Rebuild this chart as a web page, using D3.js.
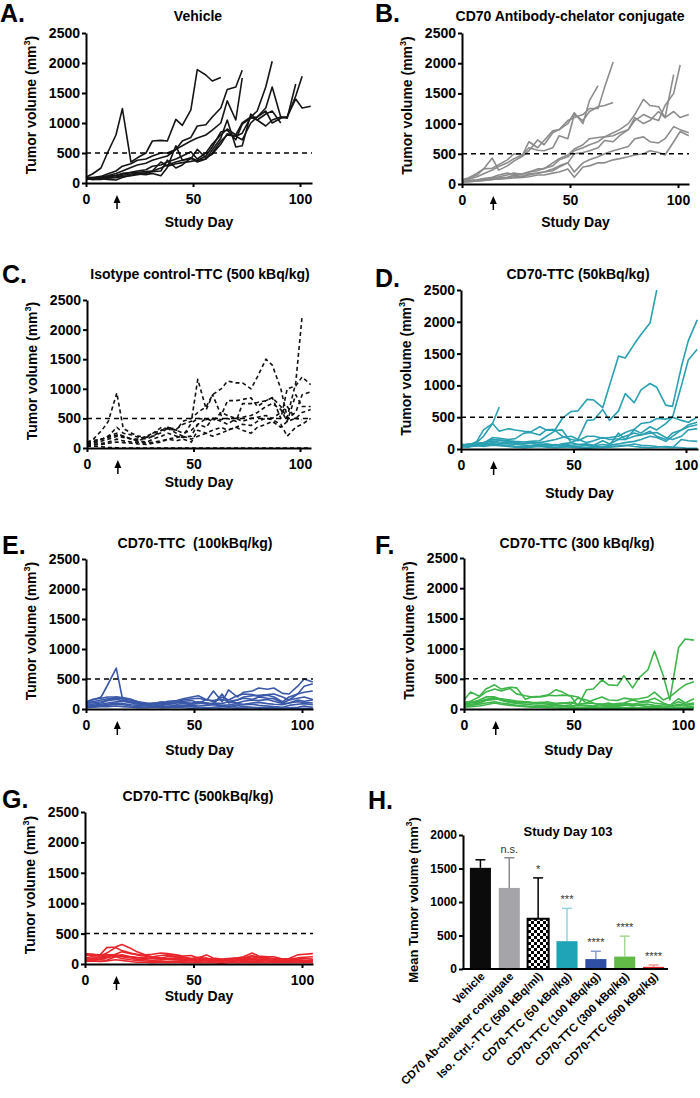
<!DOCTYPE html>
<html><head><meta charset="utf-8">
<script src="https://cdn.jsdelivr.net/npm/d3@7"></script>
<style>
body{margin:0;background:#fff}
svg{font-family:"Liberation Sans",Arial,sans-serif;font-weight:bold}
</style></head><body>
<svg id="c" width="700" height="1098"></svg>
<script>
const studyDays = [0,3,7,10,14,17,21,24,28,31,35,38,42,45,49,52,56,59,63,66,70,73,77,80,84,87,91,94,98,101,105];

const vehicleMice = [
 [100,150,250,500,800,1240,350,420,500,700,710,700,1060,960,1220,1890,1800,1700,1760],
 [80,90,110,150,200,280,320,380,400,450,500,500,560,700,760,950,970,1100,1250,1560,1600,1880],
 [70,80,100,120,160,200,260,300,330,380,420,450,560,620,700,750,800,880,1000,1370,1050,1750],
 [60,70,80,100,120,150,180,200,220,280,300,350,400,450,520,400,500,650,800,900,800,1000,1100,1200,1600,2030],
 [90,80,90,110,130,160,170,180,190,200,250,300,350,380,420,370,450,600,850,880,720,980,1080,1100,1250,1600,1100,1080,1650],
 [80,60,70,90,100,130,150,160,170,200,350,280,320,340,360,380,400,550,750,1050,600,620,1150,1050,950,1050,1100,1100,1450,1780],
 [70,60,60,80,90,110,120,140,160,190,200,380,250,300,420,350,400,500,700,800,780,720,1000,1100,1200,1000,1080,1100,1400,1250,1280],
 [100,90,70,60,50,90,130,150,140,160,120,260,620,380,400,560,420,480,650,820,780,830,1100,1050,1150,1200,1000]
];

const antibodyMice = [
 [60,100,150,250,430,230,300,380,460,550,730,650,850,900,1000,1180,1000,1380,1630],
 [50,80,120,170,230,290,350,420,480,700,600,720,880,900,1050,1100,1150,1250,1250,1600,2020],
 [70,100,180,250,260,320,400,500,480,600,560,550,600,800,750,1150,1050,1200,1280,1300,1350],
 [40,50,60,80,100,120,150,180,160,200,220,260,300,400,450,550,600,650,700,780,800,850,900,1050,1150,1100,1050,1300,1500,1970],
 [60,60,70,90,110,150,180,160,170,200,250,250,350,420,480,580,650,750,770,780,850,900,1000,1150,1400,1300,1280,1100,1810],
 [50,50,60,80,90,100,110,150,120,150,180,200,250,300,350,500,520,550,600,720,700,800,900,1100,1000,1050,1200,1100,1200,1100,1150],
 [40,40,50,60,70,90,100,120,130,170,180,200,220,280,350,200,350,400,450,500,550,580,620,750,780,700,680,750,950,900,850],
 [30,40,50,60,80,80,90,100,110,120,150,150,180,200,250,110,280,300,350,350,400,420,450,480,500,550,520,480,700,870,800]
];

const isotypeMice = [
 [90,150,300,450,930,330,250,200,180,200,260,340,320,400,450,1160,650,900,550,800,800,820,850,700,800,850,500,1000,1050,1200,1070],
 [80,100,150,180,220,200,150,150,200,250,300,350,300,450,500,600,700,900,1000,1130,1100,1100,1000,1200,1500,1400,1000,520,1100,2230],
 [70,100,150,200,350,250,220,180,150,200,300,330,250,200,420,500,480,500,480,500,450,750,750,770,800,850,700,500,600,900,950],
 [60,80,120,150,200,180,150,120,100,150,200,250,200,180,200,400,350,500,450,400,500,520,550,600,700,750,650,450,900,700,700],
 [50,60,80,100,150,120,100,100,80,100,120,150,180,200,150,200,250,300,350,300,350,400,380,450,500,480,400,200,350,400,500],
 [40,50,60,80,100,90,80,70,60,80,100,150,120,150,100,300,250,200,250,300,350,300,250,350,400,450,350,450,500,600,650],
 [100,130,150,200,250,200,150,120,180,250,350,320,300,250,300,400,500,450,600,550,500,450,500,520,550,500,600,700,500,480],
 [30,30,20,10,5,0,0,0,0,0,0,0,0,0,0,0,0,0,0,0,0,0,0,0,0,0,0,0,0,0,0]
];

const ttc50Mice = [
 [60,50,120,300,400,660],
 [80,60,100,200,400,280,320,300,280,270,350,300,310,480,590,600,780,770,650,1000,1460,1430,1650,1800,1980,2500],
 [70,60,80,100,150,140,130,120,110,120,130,200,290,300,100,150,450,460,620,450,600,870,730,930,1030,970,690,670,1300,1700,2030],
 [50,60,90,100,120,110,100,90,80,90,70,80,60,80,100,70,80,60,130,80,150,150,300,250,350,300,400,500,1000,1400,1570],
 [60,70,80,90,180,170,150,160,250,260,220,300,290,200,150,130,200,200,170,180,200,260,310,400,420,480,470,500,450,420,500],
 [40,50,60,80,150,140,120,100,90,110,100,120,150,180,200,150,100,130,180,150,160,200,250,220,280,200,150,250,300,380,420],
 [50,40,60,70,100,90,80,70,60,50,80,60,70,60,50,40,60,50,70,60,80,100,120,150,200,180,120,200,300,350,380],
 [60,80,70,60,80,70,50,40,30,50,60,40,50,80,60,70,50,40,30,60,250,150,200,220,250,260,180,150,200,300,320],
 [40,30,50,40,60,50,40,30,20,30,40,30,20,30,40,30,20,30,20,30,40,50,80,60,50,40,30,20,150,130,120],
 [30,40,50,60,70,60,50,40,30,40,50,60,50,40,30,20,10,20,30,40,50,60,40,30,20,30,40,30,20,10,10]
];

const ttc100Mice = [
 [100,150,200,400,680,150,120,100,80,90,100,110,120,150,170,180,150,140,160,130,150,200,220,230,240,250,200,150,250,380,420],
 [120,160,180,200,200,180,150,120,100,80,100,130,140,170,200,220,150,300,120,320,200,280,300,350,330,350,260,250,380,500,450],
 [80,120,150,170,180,170,150,110,90,100,80,90,120,130,140,100,160,120,200,150,220,250,240,210,230,200,120,200,250,280,300],
 [100,100,120,150,200,190,160,120,80,70,90,80,100,110,90,120,100,80,250,100,150,180,160,200,180,170,100,150,180,200,160],
 [60,80,100,140,160,140,120,90,70,90,120,100,80,90,100,110,80,100,90,120,100,130,150,140,160,130,90,100,150,130,150],
 [50,60,80,100,120,130,100,80,60,50,60,70,50,60,80,90,100,80,60,70,90,80,100,110,90,80,70,100,120,110,100],
 [40,50,60,80,100,90,70,60,50,40,30,40,50,40,60,50,60,70,50,40,60,70,80,60,50,40,30,60,80,90,70],
 [30,40,50,60,80,70,50,40,30,40,50,30,40,50,40,30,20,30,40,50,30,40,30,20,30,20,10,20,30,50,30],
 [20,30,40,40,50,40,30,20,20,30,20,20,30,20,10,20,10,20,10,20,10,10,20,10,10,10,10,10,10,10,10]
];

const ttc300Mice = [
 [150,280,210,330,400,330,360,350,160,200,200,220,320,280,200,50,320,330,480,400,390,550,350,520,650,960,550,150,1020,1160,1140],
 [100,130,200,280,330,300,340,250,220,200,210,230,220,230,220,200,100,150,200,150,140,180,160,170,200,280,150,200,320,400,450],
 [80,100,150,200,200,160,120,100,120,100,110,100,90,100,80,180,150,100,60,70,90,100,150,120,140,180,100,60,170,100,170],
 [90,110,130,160,180,150,130,120,110,100,90,80,70,60,50,70,60,50,80,60,70,90,80,100,120,100,80,60,120,80,100],
 [60,80,100,150,190,140,110,90,80,70,60,50,60,50,40,60,50,40,30,50,40,60,70,60,40,50,30,40,60,50,40],
 [40,60,80,100,120,100,80,60,50,40,50,40,30,40,30,20,30,20,30,20,30,20,30,20,20,30,20,10,30,20,20],
 [30,40,50,70,100,80,60,50,40,30,30,20,20,10,10,10,10,10,10,10,10,10,10,10,10,10,10,10,10,10,10],
 [110,120,100,140,160,170,150,130,120,110,100,120,90,100,110,80,100,90,80,100,60,80,50,70,80,60,50,40,80,60,80]
];

const ttc500Mice = [
 [160,160,150,270,280,320,260,200,150,160,180,170,150,130,140,100,150,100,80,90,100,120,180,130,120,120,80,90,150,160,170],
 [140,150,130,180,270,220,180,150,130,120,140,150,120,100,90,110,90,80,70,80,90,100,140,110,100,90,80,80,100,110,120],
 [100,120,110,130,160,200,170,160,140,120,100,120,130,110,90,80,100,70,60,70,80,90,120,100,90,80,60,70,80,90,80],
 [80,90,100,110,130,150,120,100,90,100,80,90,100,80,70,60,80,60,50,60,70,80,90,80,70,60,50,60,70,60,60],
 [60,70,80,100,150,120,100,80,70,60,70,80,70,60,50,60,50,40,50,40,50,60,70,60,50,40,40,50,50,40,40],
 [50,60,70,60,120,90,70,60,50,40,50,40,50,40,30,40,30,40,30,40,30,40,50,40,30,30,30,30,30,30,30],
 [40,50,40,50,70,60,40,30,30,20,30,20,30,20,20,20,20,20,10,20,20,20,20,20,20,20,20,20,20,20,20],
 [170,160,140,150,150,130,120,110,100,90,100,80,80,70,60,70,60,50,40,50,60,70,80,70,60,50,40,40,60,50,50]
];

const barGroups = ["Vehicle","CD70 Ab-chelator conjugate","Iso. Ctrl.-TTC (500 kBq/ml)","CD70-TTC (50 kBq/kg)","CD70-TTC (100 kBq/kg)","CD70-TTC (300 kBq/kg)","CD70-TTC (500 kBq/kg)"];
const barMeans = [1510,1210,750,415,148,185,32];
const barErrors = [120,450,610,490,117,305,28];
const barSignif = ["","n.s.","*","***","****","****","****"];

const yTicks = [0,500,1000,1500,2000,2500];
const xTicks = [0,50,100];
const barTicks = [0,500,1000,1500,2000];
const threshold = 500;
const treatmentDay = 14.5;

const svg = d3.select("#c");

const panels = [
 {letter:"A.", title:"Vehicle", data:vehicleMice, color:"#151515", dash:null, lx:0, ly:22, tx:198, ty:21, x0:86, x100:300, xEnd:312, y0:183, yTop:33, sdY:227},
 {letter:"B.", title:"CD70 Antibody-chelator conjugate", data:antibodyMice, color:"#8c8c8c", dash:null, lx:375, ly:22, tx:570, ty:21, x0:462, x100:678, xEnd:689, y0:184, yTop:33, sdY:227},
 {letter:"C.", title:"Isotype control-TTC (500 kBq/kg)", data:isotypeMice, color:"#111", dash:"4,3", lx:2, ly:283, tx:200, ty:279, x0:87, x100:300, xEnd:311, y0:448, yTop:300, sdY:487},
 {letter:"D.", title:"CD70-TTC (50kBq/kg)", data:ttc50Mice, color:"#2aa0b2", dash:null, lx:375, ly:287, tx:578, ty:279, x0:461, x100:686, xEnd:698, y0:449, yTop:290, sdY:498},
 {letter:"E.", title:"CD70-TTC  (100kBq/kg)", data:ttc100Mice, color:"#3a58a8", dash:null, lx:2, ly:554, tx:195, ty:548, x0:86, x100:302, xEnd:313, y0:709, yTop:559, sdY:755},
 {letter:"F.", title:"CD70-TTC (300 kBq/kg)", data:ttc300Mice, color:"#3db54a", dash:null, lx:375, ly:554, tx:577, ty:548, x0:464, x100:683, xEnd:693, y0:709, yTop:558, sdY:755},
 {letter:"G.", title:"CD70-TTC (500kBq/kg)", data:ttc500Mice, color:"#e8252b", dash:null, lx:2, ly:808, tx:198, ty:801, x0:85, x100:302, xEnd:313, y0:964, yTop:812, sdY:1001}
];

const fmt = d3.format("d");

function styleAxis(g){
  g.select(".domain").attr("stroke","#000").attr("stroke-width",2);
  g.selectAll(".tick line").attr("stroke","#000").attr("stroke-width",2);
  g.selectAll(".tick text").attr("fill","#000").attr("font-weight","bold").attr("font-family","'Liberation Sans',Arial,sans-serif");
}

function ylabel(g, x, y, size, text){
  const t = g.append("text").attr("transform",`translate(${x},${y}) rotate(-90)`)
    .attr("text-anchor","middle").attr("font-size",size).attr("fill","#000");
  t.append("tspan").text(text);
  t.append("tspan").attr("font-size",size*0.65).attr("dy",-size*0.45).text("3");
  t.append("tspan").attr("dy",size*0.45).text(")");
}

panels.forEach(p=>{
  const g = svg.append("g");
  const dMax = 100*(p.xEnd-p.x0)/(p.x100-p.x0);
  const x = d3.scaleLinear().domain([0,dMax]).range([p.x0,p.xEnd]);
  const y = d3.scaleLinear().domain([0,2500]).range([p.y0,p.yTop]);

  g.append("text").attr("x",p.lx).attr("y",p.ly).attr("font-size",25).attr("fill","#000").text(p.letter);
  g.append("text").attr("x",p.tx).attr("y",p.ty).attr("text-anchor","middle").attr("font-size",14)
    .style("white-space","pre").attr("fill","#000").text(p.title);

  const line = d3.line().defined(v=>v!=null).x((v,i)=>x(studyDays[i])).y(v=>y(v));
  g.append("g").selectAll("path").data(p.data).join("path")
    .attr("d",line).attr("fill","none").attr("stroke",p.color).attr("stroke-width",1.6)
    .attr("stroke-linejoin","round")
    .attr("stroke-dasharray",p.dash);

  g.append("line").attr("x1",x(0)).attr("x2",p.xEnd).attr("y1",y(threshold)).attr("y2",y(threshold))
    .attr("stroke","#000").attr("stroke-width",1.5).attr("stroke-dasharray","5,4");

  const ya = g.append("g").attr("transform",`translate(${p.x0},0)`)
    .call(d3.axisLeft(y).tickValues(yTicks).tickFormat(fmt).tickSize(4).tickPadding(2).tickSizeOuter(0));
  ya.selectAll(".tick text").attr("font-size",14);
  styleAxis(ya);
  const xa = g.append("g").attr("transform",`translate(0,${p.y0})`)
    .call(d3.axisBottom(x).tickValues(xTicks).tickFormat(fmt).tickSize(4).tickPadding(7).tickSizeOuter(0));
  xa.selectAll(".tick text").attr("font-size",14);
  styleAxis(xa);

  // treatment arrow
  const ax = x(treatmentDay);
  g.append("line").attr("x1",ax).attr("x2",ax).attr("y1",p.y0+26).attr("y2",p.y0+18).attr("stroke","#000").attr("stroke-width",1.5);
  g.append("path").attr("d",`M${ax},${p.y0+12}L${ax-3.5},${p.y0+20}L${ax+3.5},${p.y0+20}Z`).attr("fill","#000");

  g.append("text").attr("x",(p.x0+p.xEnd)/2).attr("y",p.sdY).attr("text-anchor","middle").attr("font-size",14).attr("fill","#000").text("Study Day");
  ylabel(g, p.x0-50, (p.y0+p.yTop)/2 - 3, 14, "Tumor volume (mm");
});

// Panel H
(function(){
  const g = svg.append("g");
  const defs = svg.append("defs");
  const pat = defs.append("pattern").attr("id","checker").attr("patternUnits","userSpaceOnUse").attr("width",6).attr("height",6);
  pat.append("rect").attr("width",6).attr("height",6).attr("fill","#fff");
  pat.append("rect").attr("width",3).attr("height",3).attr("fill","#000");
  pat.append("rect").attr("x",3).attr("y",3).attr("width",3).attr("height",3).attr("fill","#000");

  const barFill = ["#0b0b0b","#a4a4a9","url(#checker)","#1fa3b7","#2f4fa4","#62bb47","#e32227"];
  const errColor = ["#000","#8a8a8e","#000","#8fd3de","#8c9bd0","#a6d996","#f19a9a"];

  const y = d3.scaleLinear().domain([0,2000]).range([969,835]);
  const x = d3.scaleBand().domain(barGroups).range([467,667]).paddingInner(0.27).paddingOuter(0.1);

  g.append("text").attr("x",368).attr("y",809).attr("font-size",25).attr("fill","#000").text("H.");
  g.append("text").attr("x",568).attr("y",836).attr("text-anchor","middle").attr("font-size",13).attr("fill","#000").text("Study Day 103");

  barGroups.forEach((c,i)=>{
    const cx = x(c)+x.bandwidth()/2;
    const top = y(barMeans[i]+barErrors[i]);
    g.append("line").attr("x1",cx).attr("x2",cx).attr("y1",y(barMeans[i])).attr("y2",top).attr("stroke",errColor[i]).attr("stroke-width",1.5);
    g.append("line").attr("x1",cx-5).attr("x2",cx+5).attr("y1",top).attr("y2",top).attr("stroke",errColor[i]).attr("stroke-width",1.5);
    if(barSignif[i]) g.append("text").attr("x",cx).attr("y",top-5).attr("text-anchor","middle")
      .attr("font-size",11).attr("font-weight","normal").attr("fill","#333").text(barSignif[i]);
  });

  g.append("g").selectAll("rect").data(barGroups).join("rect")
    .attr("x",c=>x(c)).attr("width",x.bandwidth())
    .attr("y",(c,i)=>y(barMeans[i])).attr("height",(c,i)=>y(0)-y(barMeans[i]))
    .attr("fill",(c,i)=>barFill[i])
    .attr("stroke",(c,i)=>i===2?"#000":"none").attr("stroke-width",2);

  const ya = g.append("g").attr("transform","translate(463,0)")
    .call(d3.axisLeft(y).tickValues(barTicks).tickFormat(fmt).tickSize(4).tickPadding(2).tickSizeOuter(0));
  ya.selectAll(".tick text").attr("font-size",12);
  styleAxis(ya);
  g.append("line").attr("x1",462).attr("x2",668).attr("y1",969).attr("y2",969).attr("stroke","#000").attr("stroke-width",2);

  g.append("g").selectAll("text").data(barGroups).join("text")
    .attr("transform",c=>`translate(${x(c)+x.bandwidth()/2+5},${977}) rotate(-45)`)
    .attr("text-anchor","end").attr("font-size",11.5).attr("fill","#000").text(c=>c);

  ylabel(g, 418, 900, 13, "Mean Tumor volume (mm");
})();
</script>
</body></html>
